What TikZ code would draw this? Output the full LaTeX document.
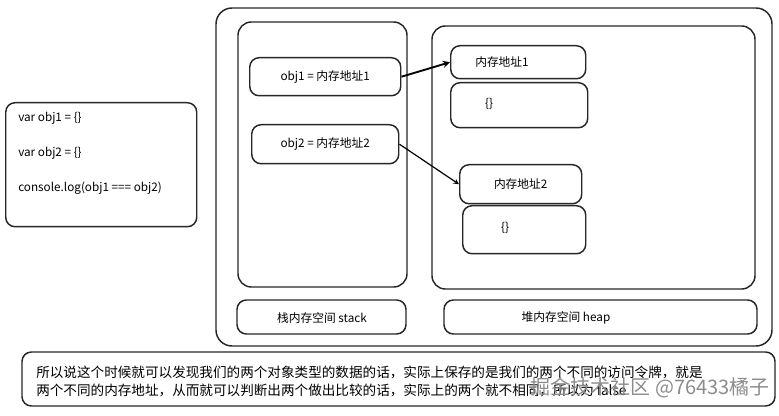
\documentclass[tikz,border=0pt]{standalone}
\usepackage{fontspec}
\setmainfont{Noto Sans CJK SC}
\begin{document}
\begin{tikzpicture}[x=0.75pt,y=-0.75pt,
 bx/.style={draw=black!85,line width=1.1pt,rounded corners=7pt},
 t/.style={font=\fontsize{8.8pt}{10pt}\selectfont,inner sep=0pt},
 bt/.style={font=\fontsize{10.2pt}{11pt}\selectfont,inner sep=0pt,anchor=west},
 ar/.style={->,>=stealth,line width=0.9pt}]
\useasboundingbox (0,0) rectangle (779,416);
\node[bx,minimum width=191*0.75pt,minimum height=124*0.75pt,anchor=north west] (code) at (5,102) {};
\node[t,anchor=west] (c1) at (18,118) {var obj1 = \{\}};
\node[t,anchor=west] (c2) at (18,153) {var obj2 = \{\}};
\node[t,anchor=west] (c3) at (18,188) {console.log(obj1 === obj2)};
\draw[bx,rounded corners=12pt] (216,8) rectangle (772,346);
\draw[bx,rounded corners=10pt] (238,22) rectangle (407,287);
\draw[bx,rounded corners=10pt] (432,26) rectangle (755,289);
\draw[bx] (237,300) rectangle (406,334);
\node[t] (sl) at (322,318) {栈内存空间 stack};
\draw[bx] (444,300) rectangle (757,334);
\node[t] (hl) at (566,318) {堆内存空间 heap};
\node[bx,minimum width=151*0.75pt,minimum height=38*0.75pt,anchor=north west,t] (o1) at (249,57) {obj1 = 内存地址1};
\node[bx,minimum width=147*0.75pt,minimum height=39*0.75pt,anchor=north west,t] (o2) at (251,124) {obj2 = 内存地址2};
\node[bx,minimum width=135*0.75pt,minimum height=33*0.75pt,anchor=north west] (a1) at (450,45) {};
\node[t,anchor=west] at (475,62) {内存地址1};
\node[bx,minimum width=137*0.75pt,minimum height=45*0.75pt,anchor=north west] (v1) at (450,82) {};
\node[t] at (489,104) {\{\}};
\node[bx,minimum width=122*0.75pt,minimum height=39*0.75pt,anchor=north west,t] (a2) at (459,164) {内存地址2};
\node[bx,minimum width=123*0.75pt,minimum height=48*0.75pt,anchor=north west] (v2) at (462,205) {};
\node[t] at (505,228) {\{\}};
\draw[ar,line width=1.4pt] (o1.east) -- (a1.west);
\draw[ar] (o2.east) -- (a2.west);
\draw[bx] (22,352) rectangle (775,406);
\node[bt] (b1) at (36,372) {所以说这个时候就可以发现我们的两个对象类型的数据的话，实际上保存的是我们的两个不同的访问令牌，就是};
\node[bt] (b2) at (36,390) {两个不同的内存地址，从而就可以判断出两个做出比较的话，实际上的两个就不相同，所以为 false};
\node[font=\fontsize{15pt}{16pt}\selectfont,text=black!45,anchor=east,inner sep=0pt] (wm) at (770,388) {掘金技术社区 @76433橘子};
\end{tikzpicture}
\end{document}
